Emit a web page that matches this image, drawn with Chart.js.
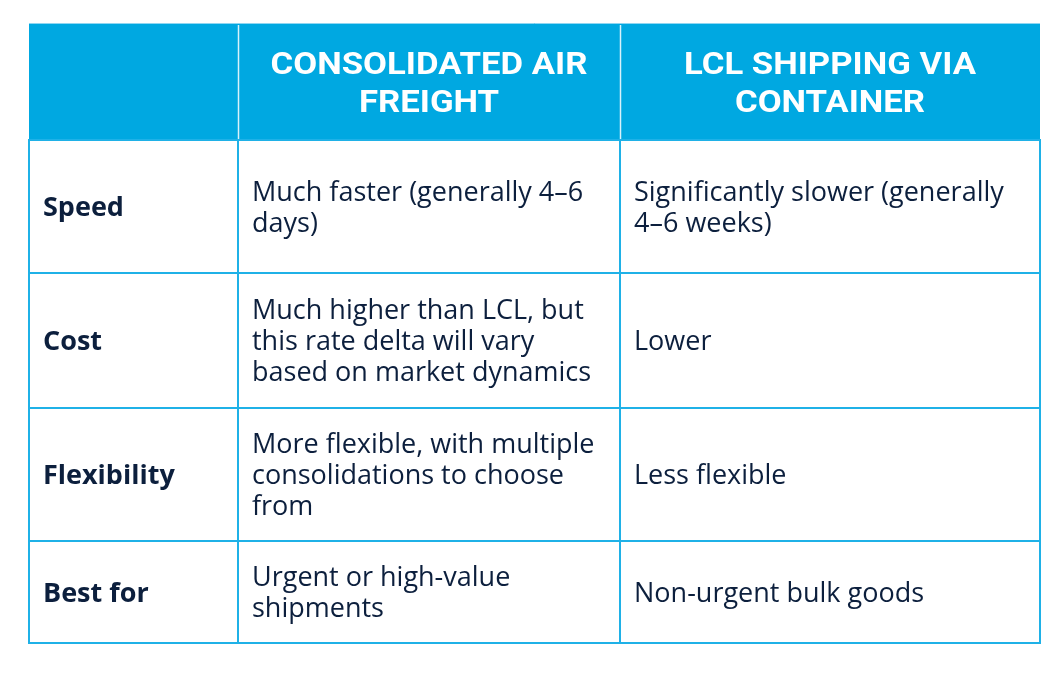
<!DOCTYPE html>
<html>
<head>
<meta charset="utf-8">
<script src="https://cdn.jsdelivr.net/npm/chart.js@4/dist/chart.umd.min.js"></script>
<style>
  html, body { margin: 0; padding: 0; background: #ffffff; }
  #wrap { width: 1062px; height: 677px; position: relative; }
</style>
</head>
<body>
<div id="wrap"><canvas id="c"></canvas></div>
<script>
// ---- DATA ----
const columnTitles = ["", "CONSOLIDATED AIR\nFREIGHT", "LCL SHIPPING VIA\nCONTAINER"];
const rowLabels = ["Speed", "Cost", "Flexibility", "Best for"];
const airFreight = [
  "Much faster (generally 4–6\ndays)",
  "Much higher than LCL, but\nthis rate delta will vary\nbased on market dynamics",
  "More flexible, with multiple\nconsolidations to choose\nfrom",
  "Urgent or high-value\nshipments"
];
const lclShipping = [
  "Significantly slower (generally\n4–6 weeks)",
  "Lower",
  "Less flexible",
  "Non-urgent bulk goods"
];

// ---- LAYOUT / STYLE (not data) ----
const layoutCfg = {
  colEdges: [0, 209, 591, 1011],
  rowEdges: [0, 117, 250, 385, 518, 620],
  padLeft: 14,
  headerFill: "#00a8e1",
  border: "#1fb1e7",
  textColor: "#0c1f3d",
  headerFont: "700 31px Roboto",
  headerCap: 11,
  headerStretch: 1.12,
  headerLine: 38,
  bodyFont: "400 27px 'Open Sans'",
  labelFont: "700 27px 'Open Sans'",
  bodyCap: 9.7,
  bodyLine: 31
};

const tablePlugin = {
  id: "tablePlugin",
  afterDraw(chart) {
    const ctx = chart.ctx;
    const xs = chart.scales.x, ys = chart.scales.y;
    const X = v => xs.getPixelForValue(v);
    const Y = v => ys.getPixelForValue(v);
    const L = layoutCfg;
    const ce = L.colEdges, re = L.rowEdges;
    ctx.save();
    // header fill
    ctx.fillStyle = L.headerFill;
    ctx.fillRect(X(ce[0]), Y(re[0]), X(ce[3]) - X(ce[0]), Y(re[1]) - Y(re[0]));
    // header white separators
    ctx.strokeStyle = "rgba(255,255,255,0.85)";
    ctx.lineWidth = 1.5;
    for (let i = 1; i < ce.length - 1; i++) {
      ctx.beginPath();
      ctx.moveTo(Math.round(X(ce[i])) + 0.5, Y(re[0]) + 2);
      ctx.lineTo(Math.round(X(ce[i])) + 0.5, Y(re[1]));
      ctx.stroke();
    }
    // header outline (light)
    ctx.strokeStyle = "#8fd6f2";
    ctx.lineWidth = 1;
    ctx.beginPath();
    ctx.moveTo(X(ce[0]), Y(re[0]) + 0.5);
    ctx.lineTo(X(ce[3]), Y(re[0]) + 0.5);
    ctx.stroke();
    // body grid
    ctx.strokeStyle = L.border;
    ctx.lineWidth = 2;
    for (let r = 1; r < re.length; r++) {
      ctx.beginPath();
      ctx.moveTo(X(ce[0]) - 1, Y(re[r]));
      ctx.lineTo(X(ce[3]) + 1, Y(re[r]));
      ctx.stroke();
    }
    for (let c = 0; c < ce.length; c++) {
      ctx.beginPath();
      ctx.moveTo(X(ce[c]), Y(re[1]));
      ctx.lineTo(X(ce[c]), Y(re[re.length - 1]) + 1);
      ctx.stroke();
    }
    // header text
    ctx.fillStyle = "#ffffff";
    ctx.font = L.headerFont;
    ctx.textAlign = "center";
    ctx.textBaseline = "alphabetic";
    columnTitles.forEach((t, c) => {
      if (!t) return;
      const lines = t.split("\n");
      const cx = (X(ce[c]) + X(ce[c + 1])) / 2;
      const cy = (Y(re[0]) + Y(re[1])) / 2;
      const h = lines.length * L.headerLine;
      lines.forEach((ln, i) => {
        const y = cy - h / 2 + L.headerLine * (i + 0.5) + L.headerCap;
        ctx.save();
        ctx.translate(cx, y);
        ctx.scale(L.headerStretch, 1);
        ctx.fillText(ln, 0, 0);
        ctx.restore();
      });
    });
    // body text
    ctx.fillStyle = L.textColor;
    ctx.textAlign = "left";
    const cols = [rowLabels, airFreight, lclShipping];
    cols.forEach((arr, c) => {
      ctx.font = c === 0 ? L.labelFont : L.bodyFont;
      arr.forEach((t, r) => {
        const lines = t.split("\n");
        const x = X(ce[c]) + L.padLeft;
        const cy = (Y(re[r + 1]) + Y(re[r + 2])) / 2;
        const h = lines.length * L.bodyLine;
        lines.forEach((ln, i) => ctx.fillText(ln, x, cy - h / 2 + L.bodyLine * (i + 0.5) + L.bodyCap));
      });
    });
    ctx.restore();
  }
};

new Chart(document.getElementById("c"), {
  type: "scatter",
  data: { datasets: [{ data: [] }] },
  options: {
    responsive: true,
    maintainAspectRatio: false,
    devicePixelRatio: 1,
    animation: false,
    events: [],
    layout: { padding: { left: 29, top: 23, right: 22, bottom: 34 } },
    plugins: { legend: { display: false }, tooltip: { enabled: false } },
    scales: {
      x: { type: "linear", min: layoutCfg.colEdges[0], max: layoutCfg.colEdges[3], display: false },
      y: { type: "linear", min: layoutCfg.rowEdges[0], max: layoutCfg.rowEdges[5], reverse: true, display: false }
    }
  },
  plugins: [tablePlugin]
});
</script>
</body>
</html>
